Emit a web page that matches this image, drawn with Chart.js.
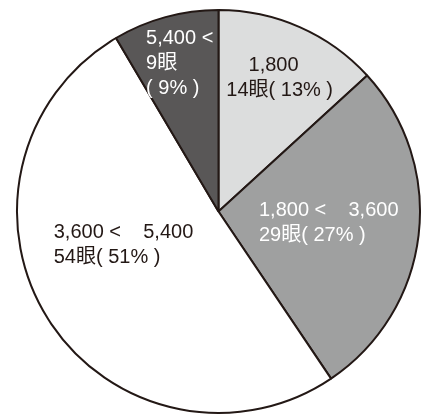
<!DOCTYPE html>
<html>
<head>
<meta charset="utf-8">
<script src="https://cdn.jsdelivr.net/npm/chart.js@4.4.0/dist/chart.umd.min.js"></script>
<style>
    html, body { margin: 0; padding: 0; background: #fff; }
    #wrap { width: 422px; height: 416px; }
</style>
</head>
<body>
<div id="wrap"><canvas id="sizeGraph"></canvas></div>
<script>
    // size bands, number of cases and their share
    var rangeLabels = ['1,800', '1,800 <    3,600', '3,600 <    5,400', '5,400 <'];
    var rangeCounts = [14, 29, 54, 9];
    var rangeShares = [13, 27, 51, 9];
    var unitLabel = '眼';

    var sliceColors = ['#dcdddd', '#9fa0a0', '#ffffff', '#595757'];
    var textColors = ['#231815', '#ffffff', '#231815', '#ffffff'];

    // label block placement: fraction of radius, angle nudge in degrees
    var labelPlaces = [
        {r: 0.73, turn: 0.8, indent: '    '},
        {r: 0.55, turn: -0.9},
        {r: 0.50, turn: 12.8},
        {r: 0.76, turn: 0.6, stack: true}
    ];

    var sliceText = {
        id: 'sliceText',
        afterDatasetsDraw: function(chart) {
            var ctx = chart.ctx;
            var meta = chart.getDatasetMeta(0);
            var lineGap = 25;
            ctx.save();
            ctx.font = '20px "Liberation Sans", "Noto Sans CJK JP", sans-serif';
            ctx.textAlign = 'left';
            ctx.textBaseline = 'middle';
            meta.data.forEach(function(arc, i) {
                var p = arc.getProps(['x', 'y', 'startAngle', 'endAngle', 'outerRadius'], true);
                var place = labelPlaces[i];
                var mid = (p.startAngle + p.endAngle) / 2 + place.turn * Math.PI / 180;
                var r = p.outerRadius * place.r;
                var cx = p.x + Math.cos(mid) * r;
                var cy = p.y + Math.sin(mid) * r;

                var lines;
                if (place.stack) {
                    lines = [rangeLabels[i], rangeCounts[i] + unitLabel, '( ' + rangeShares[i] + '% )'];
                } else {
                    lines = [(place.indent || '') + rangeLabels[i],
                             rangeCounts[i] + unitLabel + '( ' + rangeShares[i] + '% )'];
                }
                var w = 0;
                lines.forEach(function(t) { w = Math.max(w, ctx.measureText(t).width); });
                var left = cx - w / 2;
                var top = cy - (lines.length - 1) * lineGap / 2;
                ctx.fillStyle = textColors[i];
                lines.forEach(function(t, k) {
                    ctx.fillText(t, left, top + k * lineGap);
                });
            });
            ctx.restore();
        }
    };

    var sizeConfig = {
        type: 'pie',
        data: {
            labels: rangeLabels,
            datasets: [{
                data: rangeCounts,
                backgroundColor: sliceColors,
                borderColor: '#231815',
                borderWidth: 2,
                hoverBorderWidth: 2
            }]
        },
        options: {
            responsive: true,
            maintainAspectRatio: false,
            animation: false,
            rotation: 0,
            layout: {
                padding: {left: 16, right: 1, top: 9, bottom: 2}
            },
            plugins: {
                legend: { display: false },
                tooltip: { enabled: false }
            }
        },
        plugins: [sliceText]
    };

    var sizeCtx = document.getElementById('sizeGraph');
    var sizeChart = new Chart(sizeCtx, sizeConfig);
</script>
</body>
</html>
